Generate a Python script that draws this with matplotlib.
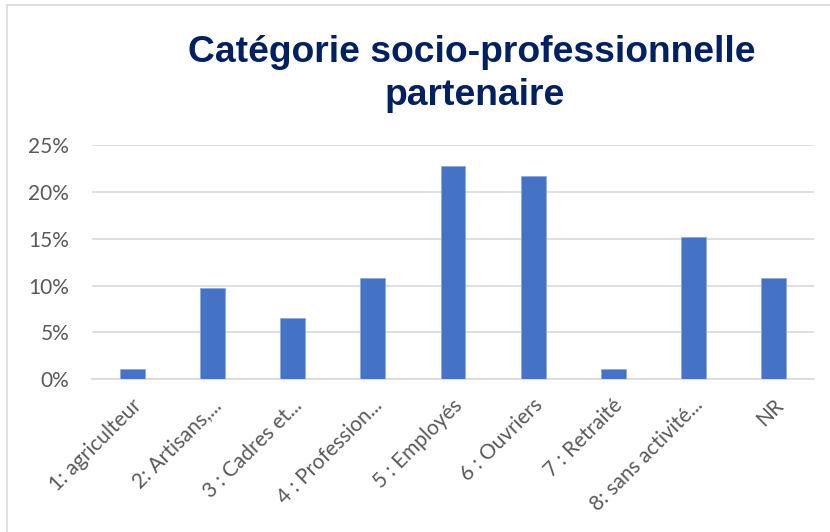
import matplotlib.pyplot as plt
import matplotlib.transforms as mtrans
from matplotlib.patches import Rectangle
from matplotlib.ticker import PercentFormatter

categories = ['1: agriculteur', '2: Artisans,...', '3 : Cadres et...', '4 : Profession...',
              '5 : Employés', '6 : Ouvriers', '7 : Retraité', '8: sans activité...', 'NR']
values = [1.1, 9.7, 6.5, 10.8, 22.8, 21.7, 1.1, 15.2, 10.8]
yticks = [0, 5, 10, 15, 20, 25]

fig = plt.figure(figsize=(8.3, 5.32), dpi=100)
fig.patches.append(Rectangle((7/830, -0.1), 2, 1.1 - 5/532, transform=fig.transFigure,
                             fill=False, edgecolor='#d9d9d9', linewidth=1.2))
ax = fig.add_axes([92/830, 1 - 379.3/532, (814 - 92)/830, (379.3 - 145)/532])

x = range(len(categories))
ax.bar(x, values, width=0.31, color='#4472c4', edgecolor='#8eaadb', linewidth=0.6, zorder=3)

ax.set_xlim(-0.5, len(categories) - 0.5)
ax.set_ylim(0, 25)
ax.set_yticks(yticks)
ax.yaxis.set_major_formatter(PercentFormatter(decimals=0))
ax.grid(axis='y', color='#d9d9d9', linewidth=1.2, zorder=0)
for s in ['top', 'right', 'left']:
    ax.spines[s].set_visible(False)
ax.spines['bottom'].set_color('#d9d9d9')
ax.spines['bottom'].set_linewidth(1.2)

ax.set_xticks(list(x))
ax.set_xticklabels(categories, rotation=45, ha='right', va='center', rotation_mode='anchor')
ax.tick_params(axis='both', length=0, colors='#595959', labelsize=15)
ax.tick_params(axis='y', pad=16.5)
ax.tick_params(axis='x', pad=16.5)
shift = mtrans.ScaledTranslation(0.06, 0, fig.dpi_scale_trans)
for lab in ax.get_xticklabels():
    lab.set_transform(lab.get_transform() + shift)
for lab in ax.get_xticklabels() + ax.get_yticklabels():
    lab.set_fontfamily('Lato')

# title, two lines placed separately
fig.text(472/830, 1 - 61.7/532, 'Catégorie socio-professionnelle', ha='center', va='baseline',
         fontsize=26.8, fontweight='bold', color='#002060', fontfamily='Liberation Sans')
fig.text(475/830, 1 - 105/532, 'partenaire', ha='center', va='baseline',
         fontsize=26.8, fontweight='bold', color='#002060', fontfamily='Liberation Sans')

fig.savefig('out.png', dpi=100)
